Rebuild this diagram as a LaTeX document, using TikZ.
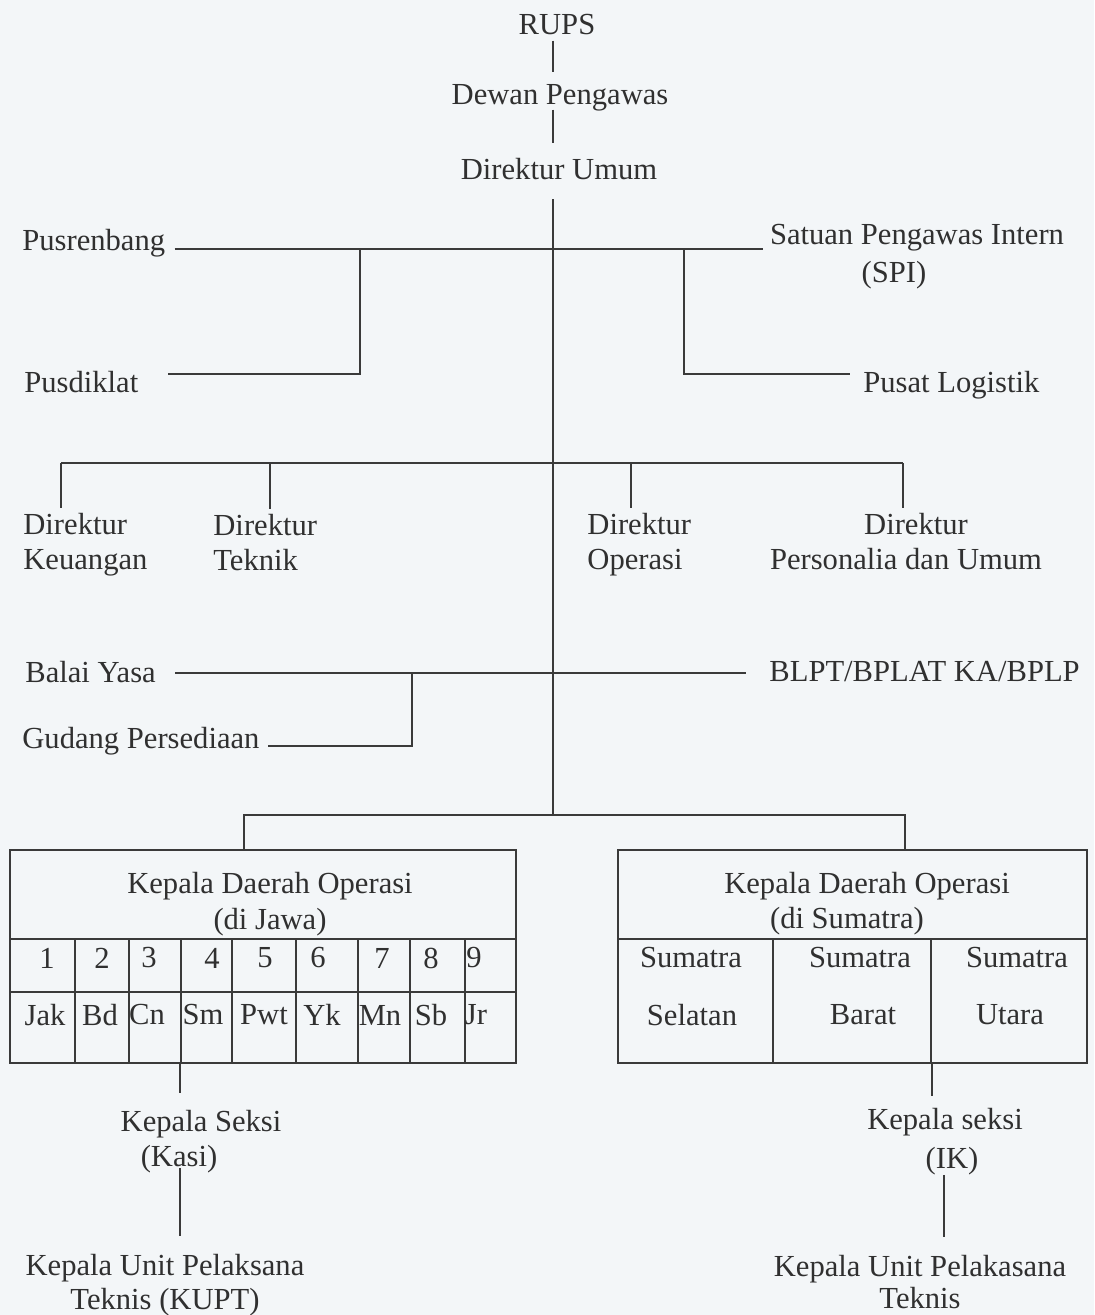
\documentclass[tikz,border=0pt]{standalone}
\usepackage{fontspec}
\setmainfont{Liberation Serif}
\usetikzlibrary{calc}
\definecolor{paper}{RGB}{243,246,248}
\definecolor{ink}{RGB}{48,48,48}
\definecolor{wirec}{RGB}{58,58,58}
\begin{document}
\begin{tikzpicture}[x=0.5pt,y=-0.5pt,
  lbl/.style={inner sep=0pt, text=ink, font=\fontsize{15.3}{17}\selectfont},
  dirlbl/.style={lbl, font=\fontsize{15.3}{17.5}\selectfont},
  conn/.style={draw=wirec, line width=1pt},
  boxc/.style={draw=wirec, line width=1pt, inner sep=0pt}]
\fill[paper] (0,0) rectangle (1094,1315);
\useasboundingbox (0,0) rectangle (1094,1315);

% ---------- top chain ----------
\node[lbl] (rups) at (557,25) {RUPS};
\node[lbl] (dewan) at (560,98) {Dewan Pengawas};
\node[lbl] (dirut) at (559,169) {Direktur Umum};
\coordinate (spine) at (553,0);

% ---------- staff units ----------
\node[lbl, anchor=west] (pusren) at (22,243) {Pusrenbang};
\node[lbl, align=center, font=\fontsize{15.3}{19}\selectfont] (spi) at (917,257) {Satuan Pengawas Intern\\(SPI)\hspace*{23pt}};
\node[lbl, anchor=west] (pusdik) at (24,382) {Pusdiklat};
\node[lbl, anchor=west] (pulog) at (863,385) {Pusat Logistik};

% ---------- directors ----------
\node[dirlbl, anchor=west, align=left] (dkeu) at (23,545) {Direktur\\Keuangan};
\node[dirlbl, anchor=west, align=left] (dtek) at (213,543) {Direktur\\Teknik};
\node[dirlbl, anchor=west, align=left] (dops) at (587,545) {Direktur\\Operasi};
\node[dirlbl, align=center] (dpers) at (906,542) {\hspace*{10pt}Direktur\\Personalia dan Umum};

% ---------- workshops ----------
\node[lbl, anchor=west] (balai) at (25,672) {Balai Yasa};
\node[lbl, anchor=west] (blpt) at (769,672) {BLPT/BPLAT KA/BPLP};
\node[lbl, anchor=west] (gudang) at (22,741) {Gudang Persediaan};

% ---------- regional boxes ----------
\node[boxc, minimum width=253pt, minimum height=106.5pt] (jawa) at (263,956.5) {};
\node[boxc, minimum width=234.5pt, minimum height=106.5pt] (sum) at (852.5,956.5) {};

\draw[conn] (jawa.west |- 0,939) -- (jawa.east |- 0,939);
\draw[conn] (jawa.west |- 0,992) -- (jawa.east |- 0,992);
\foreach \cx in {75,129,181,232,296,358,410,465} \draw[conn] (\cx,939) -- (\cx,1063);
\draw[conn] (sum.west |- 0,939) -- (sum.east |- 0,939);
\foreach \cx in {773,931} \draw[conn] (\cx,939) -- (\cx,1063);

\node[lbl, align=center, font=\fontsize{15.3}{18}\selectfont] (jhead) at (270,904) {Kepala Daerah Operasi\\(di Jawa)};
\node[lbl, align=center, font=\fontsize{15.3}{17.5}\selectfont] (shead) at (867,904) {Kepala Daerah Operasi\\(di Sumatra)\hspace*{20pt}};

\foreach \n/\x in {1/47,2/102,3/149,4/212,5/265,6/318,7/382,8/431,9/474}
  \node[lbl] (num\n) at (\x,958) {\n};
\foreach \t/\x in {Jak/45,Bd/100,Cn/147,Sm/203,Pwt/264,Yk/322,Mn/380,Sb/431,Jr/476}
  \node[lbl] (kota\t) at (\x,1015) {\t};

\node[lbl] (sa1) at (691,958) {Sumatra};
\node[lbl] (sa2) at (860,958) {Sumatra};
\node[lbl] (sa3) at (1017,958) {Sumatra};
\node[lbl] (sb1) at (692,1015) {Selatan};
\node[lbl] (sb2) at (863,1015) {Barat};
\node[lbl] (sb3) at (1010,1015) {Utara};

% ---------- section heads ----------
\node[lbl, align=center, font=\fontsize{15.3}{17.5}\selectfont] (kasi) at (201,1142) {Kepala Seksi\\(Kasi)\hspace*{22pt}};
\node[lbl, align=center, font=\fontsize{15.3}{17}\selectfont] (kupt) at (165,1285) {Kepala Unit Pelaksana\\Teknis (KUPT)};
\node[lbl, align=center, font=\fontsize{15.3}{19.5}\selectfont] (ik) at (945,1142) {Kepala seksi\\\hspace*{7pt}(IK)};
\node[lbl, align=center, font=\fontsize{15.3}{16}\selectfont] (kupt2) at (920,1282) {Kepala Unit Pelakasana\\Teknis};

% ---------- connectors ----------
\coordinate (b1) at (553,249);
\coordinate (b4) at (553,815);
\coordinate (j1) at (360,249);
\coordinate (j2) at (684,249);
\coordinate (j3) at (412,673);
\coordinate (b3) at (553,673);
\coordinate (d1) at (61,463);
\coordinate (d2) at (270,463);
\coordinate (d3) at (631,463);
\coordinate (d4) at (903,463);

\draw[conn] ($(rups.south -| spine)+(0,5)$) -- ($(dewan.north -| spine)+(0,-12)$);
\draw[conn] ($(dewan.south -| spine)+(0,-2)$) -- ($(dirut.north -| spine)+(0,-15)$);
\draw[conn] ($(dirut.south -| spine)+(0,19)$) -- (b4);

\draw[conn] ($(pusren.east |- b1)+(9,0)$) -- ($(spi.west |- b1)+(-7,0)$);
\draw[conn] (j1) |- ($(pusdik.east |- 0,374)+(29,0)$);
\draw[conn] (j2) |- ($(pulog.west |- 0,374)+(-13,0)$);

\draw[conn] (d1) -- (d4);
\draw[conn] (d1) -- ($(d1 |- dkeu.north)+(0,-5)$);
\draw[conn] (d2) -- ($(d2 |- dtek.north)+(0,-5)$);
\draw[conn] (d3) -- ($(d3 |- dops.north)+(0,-5)$);
\draw[conn] (d4) -- ($(d4 |- dpers.north)+(0,-5)$);

\draw[conn] ($(balai.east |- b3)+(19,0)$) -- ($(blpt.west |- b3)+(-23,0)$);
\draw[conn] (j3) |- ($(gudang.east |- 0,746)+(8,0)$);

\draw[conn] (jawa.north -| 244,0) |- (b4) -| (sum.north -| 905,0);

\draw[conn] (jawa.south -| 180,0) -- ($(kasi.north -| 180,0)+(0,-17)$);
\draw[conn] ($(kasi.south -| 180,0)+(0,-6)$) -- ($(kupt.north -| 180,0)+(0,-18)$);
\draw[conn] (sum.south -| 932,0) -- ($(ik.north -| 932,0)+(0,-12)$);
\draw[conn] ($(ik.south -| 944,0)+(0,-1)$) -- ($(kupt2.north -| 944,0)+(0,-18)$);
\end{tikzpicture}
\end{document}
